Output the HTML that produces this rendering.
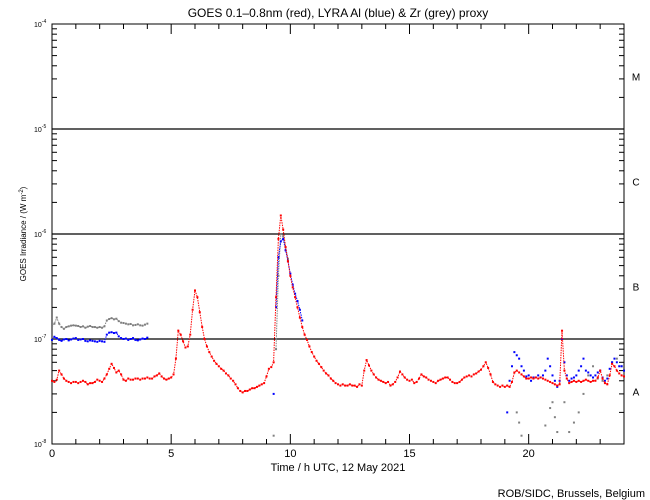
<!DOCTYPE html>
<html><head><meta charset="utf-8"><style>
body{margin:0;background:#fff;}
svg{display:block;font-family:"Liberation Sans",sans-serif;}
</style></head><body>
<svg id="chart" width="650" height="500" viewBox="0 0 650 500" xmlns="http://www.w3.org/2000/svg">
<rect width="650" height="500" fill="#fff"/>
<text x="338" y="17" font-size="12" text-anchor="middle">GOES 0.1–0.8nm (red), LYRA Al (blue) &amp; Zr (grey) proxy</text>
<g id="axes"></g>
<g id="marks"></g>
<text x="338" y="471" font-size="11" text-anchor="middle">Time / h UTC, 12 May 2021</text>
<text transform="translate(26,234) rotate(-90)" font-size="8" text-anchor="middle">GOES Irradiance / (W m<tspan baseline-shift="super" font-size="6">-2</tspan>)</text>
<text x="645" y="497" font-size="11" text-anchor="end">ROB/SIDC, Brussels, Belgium</text>
</svg>
<script>
// values in units of 1e-8 W/m^2
const redStart = 0, redStep = 0.1;
const redValues = [4.0,3.9,4.1,5.0,4.6,4.2,4.0,3.9,3.8,3.9,
3.9,3.8,3.9,4.0,3.9,3.7,3.8,3.8,3.9,4.1,
4.0,3.9,4.2,4.6,5.2,5.8,5.3,4.8,5.0,4.6,
4.1,4.0,4.2,4.1,4.1,4.2,4.2,4.1,4.2,4.2,
4.3,4.2,4.2,4.4,4.5,4.7,4.4,4.2,4.1,4.2,
4.3,4.6,6.5,12,11,9.5,8.3,8.5,11,19,
29,25,18,13,10,8.5,7.5,6.8,6.2,5.8,
5.5,5.2,5.0,4.7,4.5,4.2,4.0,3.7,3.4,3.2,
3.1,3.2,3.2,3.3,3.4,3.4,3.5,3.6,3.7,3.8,
4.4,5.2,5.4,6,25,90,150,110,75,55,
40,31,25,20,16,13,11,9.8,8.5,7.5,
6.8,6.2,5.8,5.4,5.0,4.7,4.5,4.2,4.0,3.8,
3.7,3.6,3.7,3.6,3.6,3.7,3.6,3.6,3.5,3.7,
3.6,5.0,6.3,5.6,5.0,4.6,4.3,4.1,4.0,3.9,
3.8,3.9,3.6,3.7,3.9,4.3,4.9,4.6,4.3,4.1,
4.0,4.1,3.8,3.9,4.2,4.6,4.4,4.3,4.1,4.0,
3.9,3.8,4.0,4.1,4.2,4.3,4.3,4.1,3.9,3.8,
3.8,3.9,4.1,4.3,4.4,4.5,4.4,4.6,4.7,4.9,
5.1,5.5,6.0,5.3,4.6,3.9,3.7,3.6,3.5,3.6,
3.5,3.6,3.5,3.9,4.8,5.0,4.8,4.6,4.4,4.2,
4.2,4.3,4.2,4.3,4.2,4.3,4.2,4.1,4.0,3.9,
3.8,3.7,3.6,3.7,12,5.0,4.2,3.8,3.9,4.0,
3.9,4.0,3.9,4.0,4.1,4.0,3.9,4.0,4.0,4.3,
5.0,4.2,3.8,3.7,4.5,5.8,5.5,5.0,4.7,4.5,
4.4];
const blueTimes = [0,0.1,0.2,0.3,0.4,0.5,0.6,0.7,0.8,0.9,1.0,1.1,1.2,1.3,1.4,1.5,1.6,1.7,1.8,1.9,2.0,2.1,2.2,2.3,2.4,2.5,2.6,2.7,2.8,2.9,3.0,3.1,3.2,3.3,3.4,3.5,3.6,3.7,3.8,3.9,4.0,
9.3,9.4,9.5,9.6,9.7,9.8,9.9,10.0,10.1,10.2,10.3,10.4,10.5,
19.1,19.2,19.3,19.4,19.5,19.6,19.7,19.8,19.9,20.0,20.1,20.2,20.3,20.4,20.5,20.6,20.7,20.8,20.9,21.0,21.1,21.2,21.3,21.4,21.5,21.6,21.7,21.8,21.9,22.0,22.1,22.2,22.3,22.4,22.5,22.6,22.7,22.8,22.9,23.0,23.1,23.2,23.3,23.4,23.5,23.6,23.7,23.8,23.9,24.0];
const blueValues = [9.8,10.5,10.2,9.8,9.6,9.9,10,9.7,9.9,10.1,10.2,9.8,9.9,10,9.6,9.5,9.7,9.6,9.5,9.4,9.6,9.5,9.4,11,11.5,11.6,11.4,11.5,10.6,10.2,10,10.1,9.8,10,10.2,9.8,9.7,9.9,10.1,10,10.3,
3,20,60,85,90,70,55,42,33,27,23,19,15,
2,4,5.5,7.5,7.0,6.5,5.5,5.0,4.4,4.5,4.0,4.3,4.3,4.5,4.3,4.5,5.0,6.5,5.5,4.5,4.0,3.5,4.0,10,6,4.5,4.0,4.2,4.3,4.5,5.0,5.5,6.5,5.0,4.8,4.5,4.3,4.5,4.8,5.0,4.3,4.0,4.2,5.2,6,6.5,6.0,5.5,5.5,5.0];
const greyTimes = [0,0.1,0.2,0.3,0.4,0.5,0.6,0.7,0.8,0.9,1.0,1.1,1.2,1.3,1.4,1.5,1.6,1.7,1.8,1.9,2.0,2.1,2.2,2.3,2.4,2.5,2.6,2.7,2.8,2.9,3.0,3.1,3.2,3.3,3.4,3.5,3.6,3.7,3.8,3.9,4.0,
9.3,9.4,9.5,9.6,9.7,9.8,9.9,
19.5,19.6,19.7,20.5,20.7,20.9,21.0,21.1,21.2,21.5,21.7,21.9,22.1,22.3,22.5,22.7,22.9,23.1,23.3,23.5,23.7,23.9];
const greyValues = [13,14,16,14,13,12.5,13,13.2,13.4,13.5,13.4,13.3,13,13.2,12.8,13.1,13.3,13,13,12.8,13,12.8,13.2,15,15.5,15.8,15.4,15.6,14.8,14.3,14.2,14,13.8,13.9,13.5,13.6,13.8,13.5,13.4,13.7,14,
1.2,8,40,100,95,75,58,
2.0,1.6,1.2,1.0,1.5,2.2,2.5,1.8,1.3,2.5,1.3,1.6,2.0,3.0,4.5,5.5,4.2,4.0,4.5,6.0,6.5,5.5];
const xTickLabels = ["0","5","10","15","20"];
const yDecadeLabels = ["-8","-7","-6","-5","-4"];
const classLabels = ["A","B","C","M"];

const X0=52,X1=624,Y0=444,Y1=24;
const xs = t => X0 + t*(X1-X0)/24;
const ys = v => Y0 - Math.log10(v)*(Y0-Y1)/4; // v in 1e-8 units
const NS="http://www.w3.org/2000/svg";
function mk(tag, attrs, parent){const e=document.createElementNS(NS,tag);for(const k in attrs)e.setAttribute(k,attrs[k]);parent.appendChild(e);return e;}
const axes=document.getElementById('axes'), marks=document.getElementById('marks');

const frame=mk('rect',{x:X0,y:Y1,width:X1-X0,height:Y0-Y1,fill:'none',stroke:'#000','stroke-width':1},axes);



for(let h=0;h<=24;h++){
  const len = h%5===0?10:5, x=xs(h);
  const t1=mk('line',{x1:x,x2:x,y1:Y0,y2:Y0-len,stroke:'#000'},axes);
  
  
  const t2=mk('line',{x1:x,x2:x,y1:Y1,y2:Y1+len,stroke:'#000'},axes);
  
  
}
xTickLabels.forEach(l=>{
  const tx=mk('text',{x:xs(+l),y:457,'font-size':11,'text-anchor':'middle'},axes);
  tx.textContent=l;
  
  
});
for(let d=0;d<4;d++){
  for(let m=2;m<=9;m++){
    const y=ys(Math.pow(10,d)*m);
    const a=mk('line',{x1:X0,x2:X0+5,y1:y,y2:y,stroke:'#000'},axes);
    
    
    const b=mk('line',{x1:X1,x2:X1-5,y1:y,y2:y,stroke:'#000'},axes);
    
    
  }
}
yDecadeLabels.forEach((l,i)=>{
  const y=ys(Math.pow(10,i));
  const tx=mk('text',{x:34,y:y+3,'font-size':7},axes);
  tx.textContent='10';
  const sp=mk('tspan',{dy:-4,'font-size':5},tx);
  sp.textContent=l;
  
  
  if(i>0&&i<4){
    const g=mk('line',{x1:X0,x2:X1,y1:y,y2:y,stroke:'#000','stroke-width':1.2},axes);
    
    
  }
});
classLabels.forEach((l,i)=>{
  const tx=mk('text',{x:636,y:ys(Math.pow(10,i+0.5))+4,'font-size':10,'text-anchor':'middle'},axes);
  tx.textContent=l;
  
  
});

function drawSeries(times, vals, color, name, traceUntil, traceMin){
  const g=mk('g',{},marks);
  
  
  let pts=[];
  const flush=()=>{ if(pts.length>1){const pl=mk('polyline',{points:pts.join(' '),fill:'none',stroke:color,'stroke-width':1,'stroke-dasharray':'1.5 1'},g);
    
    } pts=[]; };
  for(let i=0;i<vals.length;i++){
    if(i>0 && times[i]-times[i-1]>0.15) flush();
    const x=xs(times[i]), y=ys(vals[i]);
    if(times[i]<traceUntil && vals[i]>=traceMin) pts.push(x.toFixed(1)+','+y.toFixed(1)); else flush();
    const r=mk('rect',{x:x-1,y:y-1,width:2,height:2,fill:color},g);
    
    
  }
  flush();
}
drawSeries(greyTimes, greyValues, '#808080', 'zr-grey', 19, 5);
drawSeries(blueTimes, blueValues, '#0000ff', 'al-blue', 19, 5);
drawSeries(redValues.map((_,i)=>redStart+i*redStep), redValues, '#ff0000', 'goes-red', 99, 0);
</script>
</body></html>
